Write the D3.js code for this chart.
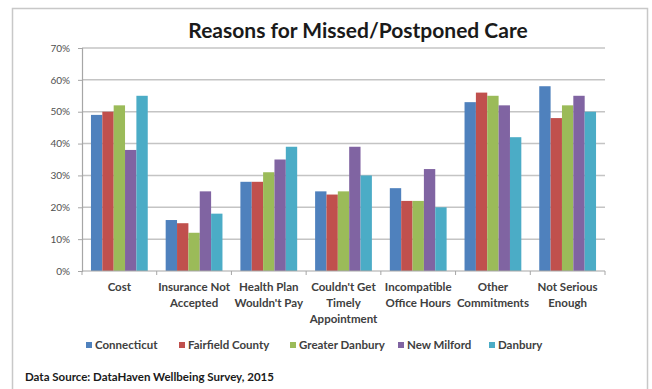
<!DOCTYPE html>
<html><head><meta charset="utf-8">
<script src="https://cdn.jsdelivr.net/npm/d3@7"></script>
<style>body{margin:0;background:#fff}svg{display:block}</style>
</head><body>
<svg id="c" width="652" height="389"></svg>
<script>
const categories = [["Cost"],["Insurance Not","Accepted"],["Health Plan","Wouldn't Pay"],["Couldn't Get","Timely","Appointment"],["Incompatible","Office Hours"],["Other","Commitments"],["Not Serious","Enough"]];
const seriesNames = ["Connecticut","Fairfield County","Greater Danbury","New Milford","Danbury"];
const connecticut = [49,16,28,25,26,53,58];
const fairfield = [50,15,28,24,22,56,48];
const greaterDanbury = [52,12,31,25,22,55,52];
const newMilford = [38,25,35,39,32,52,55];
const danbury = [55,18,39,30,20,42,50];
const yTicks = [0,10,20,30,40,50,60,70];
const colors = ["#4F81BD","#C0504D","#9BBB59","#8064A2","#4BACC6"];
const series = [connecticut,fairfield,greaterDanbury,newMilford,danbury];

const svg = d3.select("#c");
const font = "Lato, 'Open Sans', sans-serif";
svg.append("rect").attr("x",12.5).attr("y",8.5).attr("width",635).attr("height",400)
  .attr("fill","none").attr("stroke","#c8c8c8").attr("stroke-width",1.5);

svg.append("text").attr("x",358).attr("y",38).attr("text-anchor","middle")
  .attr("font-family",font).attr("font-weight","bold").attr("font-size",21).attr("fill","#1a1a1a")
  .text("Reasons for Missed/Postponed Care");

const pL=82, pR=605, pT=48, pB=271;
const x0 = d3.scaleBand().domain(d3.range(categories.length)).range([pL,pR]).paddingInner(0.24).paddingOuter(0.12);
const xc = d3.scaleBand().domain(d3.range(categories.length)).range([pL,pR]);
const x1 = d3.scaleBand().domain(d3.range(seriesNames.length)).range([0,x0.bandwidth()]);
const y = d3.scaleLinear().domain([0,70]).range([pB,pT]);

svg.append("g").selectAll("line").data(yTicks.filter(d=>d>0)).join("line")
  .attr("x1",pL).attr("x2",pR).attr("y1",d=>y(d)).attr("y2",d=>y(d))
  .attr("stroke","#c4c4c4").attr("stroke-width",1.5);

const ya = svg.append("g").attr("transform",`translate(${pL},0)`)
  .call(d3.axisLeft(y).tickValues(yTicks).tickFormat(d=>d+"%").tickSize(4).tickPadding(8));
ya.select(".domain").attr("stroke","#a6a6a6").attr("stroke-width",1.2);
ya.selectAll(".tick line").attr("stroke","#a6a6a6");
ya.selectAll("text").attr("font-family",font).attr("font-size",10).attr("fill","#505050");

const g = svg.append("g");
series.forEach((vals,si)=>{
  g.selectAll(null).data(vals).join("rect")
    .attr("x",(d,i)=>x0(i)+x1(si)).attr("width",x1.bandwidth())
    .attr("y",d=>y(d)).attr("height",d=>y(0)-y(d)).attr("fill",colors[si]);
});

const xa = svg.append("g").attr("transform",`translate(0,${pB})`);
xa.append("line").attr("x1",pL).attr("x2",pR).attr("stroke","#a6a6a6").attr("stroke-width",1.2);
xa.selectAll("line.t").data(d3.range(categories.length+1)).join("line").attr("class","t")
  .attr("x1",i=>pL+i*xc.step()).attr("x2",i=>pL+i*xc.step()).attr("y1",0).attr("y2",4).attr("stroke","#a6a6a6");
const lbl = xa.selectAll("text").data(categories).join("text")
  .attr("text-anchor","middle").attr("font-family",font).attr("font-weight","bold").attr("font-size",11.5).attr("fill","#404040");
lbl.each(function(lines,i){
  const t=d3.select(this);
  lines.forEach((l,k)=>t.append("tspan").attr("x",xc(i)+xc.bandwidth()/2).attr("y",20+k*16).text(l));
});

const legX=[86,179,290,398,489];
const leg = svg.append("g").selectAll("g").data(seriesNames).join("g").attr("transform",(d,i)=>`translate(${legX[i]},345)`);
leg.append("rect").attr("x",0).attr("y",-3).attr("width",6).attr("height",6).attr("fill",(d,i)=>colors[i]);
leg.append("text").attr("x",9).attr("y",4).attr("font-family",font).attr("font-weight","bold").attr("font-size",11.5).attr("fill","#404040").text(d=>d);

svg.append("text").attr("x",25).attr("y",381).attr("font-family",font).attr("font-weight","bold").attr("font-size",11.5).attr("fill","#1a1a1a")
  .text("Data Source:  DataHaven Wellbeing Survey, 2015");
</script>
</body></html>
